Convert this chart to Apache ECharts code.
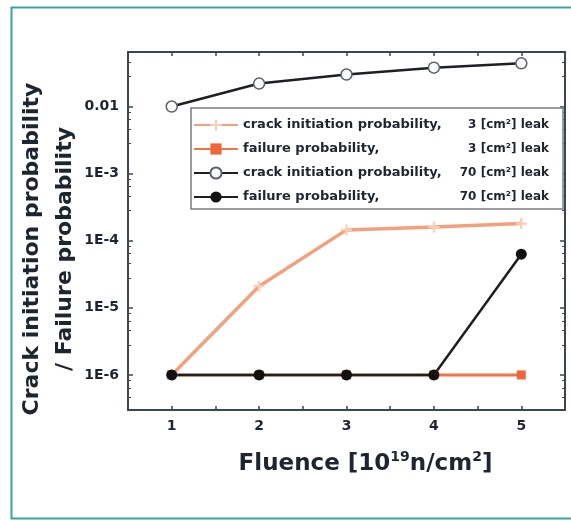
<!DOCTYPE html>
<html>
<head>
<meta charset="utf-8">
<script src="https://cdn.jsdelivr.net/npm/echarts@6/dist/echarts.min.js"></script>
<style>
html,body{margin:0;padding:0;background:#fff;}
#c{width:571px;height:521px;}
</style>
</head>
<body>
<div id="c"></div>
<script>
// ---- data ----
var fluence = [1, 2, 3, 4, 5];
var crack3 = [1e-6, 2.1e-5, 1.45e-4, 1.6e-4, 1.8e-4];
var fail3 = [1e-6, 1e-6, 1e-6, 1e-6, 1e-6];
var crack70 = [0.01, 0.022, 0.030, 0.038, 0.044];
var fail70 = [1e-6, 1e-6, 1e-6, 1e-6, 6.3e-5];
var seriesNames = [
  'crack initiation probability, 3 [cm²] leak',
  'failure probability, 3 [cm²] leak',
  'crack initiation probability, 70 [cm²] leak',
  'failure probability, 70 [cm²] leak'
];
var legendLeft = ['crack initiation probability,', 'failure probability,', 'crack initiation probability,', 'failure probability,'];
var legendRight = ['3 [cm²] leak', '3 [cm²] leak', '70 [cm²] leak', '70 [cm²] leak'];
var xTickValues = [1, 2, 3, 4, 5];
var xTickLabels = ['1', '2', '3', '4', '5'];
var yTickValues = [1e-6, 1e-5, 1e-4, 1e-3, 0.01];
var yTickLabels = ['1E-6', '1E-5', '1E-4', '1E-3', '0.01'];
var yTitle = 'Crack initiation probability\n/ Failure probability';

function pairs(ys) { return fluence.map(function (x, i) { return [x, ys[i]]; }); }

var FONT = 'DejaVu Sans';
var TXT = '#1e2530';
var AX = '#3b4650';

function xLabel(v) {
  for (var i = 0; i < xTickValues.length; i++) if (Math.abs(v - xTickValues[i]) < 1e-6) return xTickLabels[i];
  return '';
}
function yLabel(v) {
  for (var i = 0; i < yTickValues.length; i++) if (Math.abs(v / yTickValues[i] - 1) < 1e-4) return yTickLabels[i];
  return '';
}

var chart = echarts.init(document.getElementById('c'), null, {renderer: 'canvas'});
var axisLine = {show: true, onZero: false, lineStyle: {color: AX, width: 2}};
var plusPath = 'path://M4,0H6V4H10V6H6V10H4V6H0V4H4Z';

chart.setOption({
  animation: false,
  backgroundColor: '#fff',
  graphic: [{
    type: 'rect', left: 9, top: 5, shape: {width: 580, height: 511},
    style: {fill: 'none', stroke: '#3aa39a', lineWidth: 2}, silent: true
  }, {
    type: 'text', x: 49, y: 249, rotation: Math.PI / 2,
    style: {
      text: yTitle, fill: TXT, fontFamily: FONT, fontWeight: 'bold', fontSize: 22,
      lineHeight: 33, align: 'center', verticalAlign: 'middle'
    },
    silent: true
  }],
  grid: {left: 128, top: 52, width: 437, height: 358, outerBoundsMode: 'none', containLabel: false},
  legend: {
    orient: 'vertical', left: 191, top: 108,
    padding: [10, 14, 5, 2],
    itemWidth: 44, itemHeight: 14, itemGap: 10,
    backgroundColor: '#fff', borderColor: '#7a7f86', borderWidth: 1.5,
    data: seriesNames,
    formatter: function (name) {
      var i = seriesNames.indexOf(name);
      return '{a|' + legendLeft[i] + '}{b|' + legendRight[i] + '}';
    },
    textStyle: {
      color: TXT, fontFamily: FONT, fontWeight: 'bold', fontSize: 13, lineHeight: 14,
      rich: {
        a: {width: 210, align: 'left', fontFamily: FONT, fontWeight: 'bold', fontSize: 13, color: TXT},
        b: {width: 96, align: 'right', fontFamily: FONT, fontWeight: 'bold', fontSize: 12, color: TXT}
      }
    }
  },
  xAxis: [{
    type: 'value', min: 0.5, max: 5.5, interval: 0.5,
    name: '{t|Fluence [10}{s|19}{t|n/cm}{s|2}{t|]}',
    nameLocation: 'middle', nameGap: 40,
    nameTextStyle: {
      padding: [0, 0, 0, 38],
      rich: {
        t: {fontFamily: FONT, fontWeight: 'bold', fontSize: 23, color: TXT, verticalAlign: 'bottom', lineHeight: 26},
        s: {fontFamily: FONT, fontWeight: 'bold', fontSize: 14, color: TXT, verticalAlign: 'top', lineHeight: 26, padding: [0, 0, 10, 0]}
      }
    },
    axisLine: axisLine,
    axisTick: {show: true, inside: true, length: 4, lineStyle: {color: AX, width: 1.5}},
    axisLabel: {formatter: xLabel, fontFamily: FONT, fontWeight: 'bold', fontSize: 14, color: TXT, margin: 9},
    splitLine: {show: false}
  }, {
    type: 'value', position: 'top', min: 0.5, max: 5.5, interval: 0.5,
    axisLine: axisLine,
    axisTick: {show: true, inside: true, length: 4, lineStyle: {color: AX, width: 1.5}},
    axisLabel: {show: false}, splitLine: {show: false}
  }],
  yAxis: [{
    type: 'log', logBase: 10, min: 3e-7, max: 0.065,
    axisLine: axisLine,
    axisTick: {show: true, inside: true, length: 5, lineStyle: {color: AX, width: 1.5}},
    minorTick: {show: true, splitNumber: 5, length: 3, lineStyle: {color: AX, width: 1}},
    axisLabel: {formatter: yLabel, fontFamily: FONT, fontWeight: 'bold', fontSize: 14, color: TXT, margin: 9, showMinLabel: false, showMaxLabel: false},
    splitLine: {show: false}
  }, {
    type: 'log', logBase: 10, min: 3e-7, max: 0.065, position: 'right',
    axisLine: axisLine,
    axisTick: {show: true, inside: true, length: 5, lineStyle: {color: AX, width: 1.5}},
    minorTick: {show: true, splitNumber: 5, length: 3, lineStyle: {color: AX, width: 1}},
    axisLabel: {show: false}, splitLine: {show: false}
  }],
  series: [{
    name: seriesNames[0], type: 'line', data: pairs(crack3),
    symbol: plusPath, symbolSize: 11,
    lineStyle: {color: '#f3a07c', width: 3.5},
    itemStyle: {color: '#f9cdb6', borderColor: '#f3a07c', borderWidth: 0}
  }, {
    name: seriesNames[1], type: 'line', data: pairs(fail3),
    symbol: 'rect', symbolSize: 9,
    lineStyle: {color: '#f07446', width: 3},
    itemStyle: {color: '#f2643a'}
  }, {
    name: seriesNames[2], type: 'line', data: pairs(crack70),
    symbol: 'circle', symbolSize: 11,
    lineStyle: {color: '#1c1f24', width: 2.5},
    itemStyle: {color: '#fafafa', borderColor: '#5a6068', borderWidth: 1.5}
  }, {
    name: seriesNames[3], type: 'line', data: pairs(fail70),
    symbol: 'circle', symbolSize: 11,
    lineStyle: {color: '#1c1f24', width: 2.5},
    itemStyle: {color: '#111'}
  }]
});
</script>
</body>
</html>
